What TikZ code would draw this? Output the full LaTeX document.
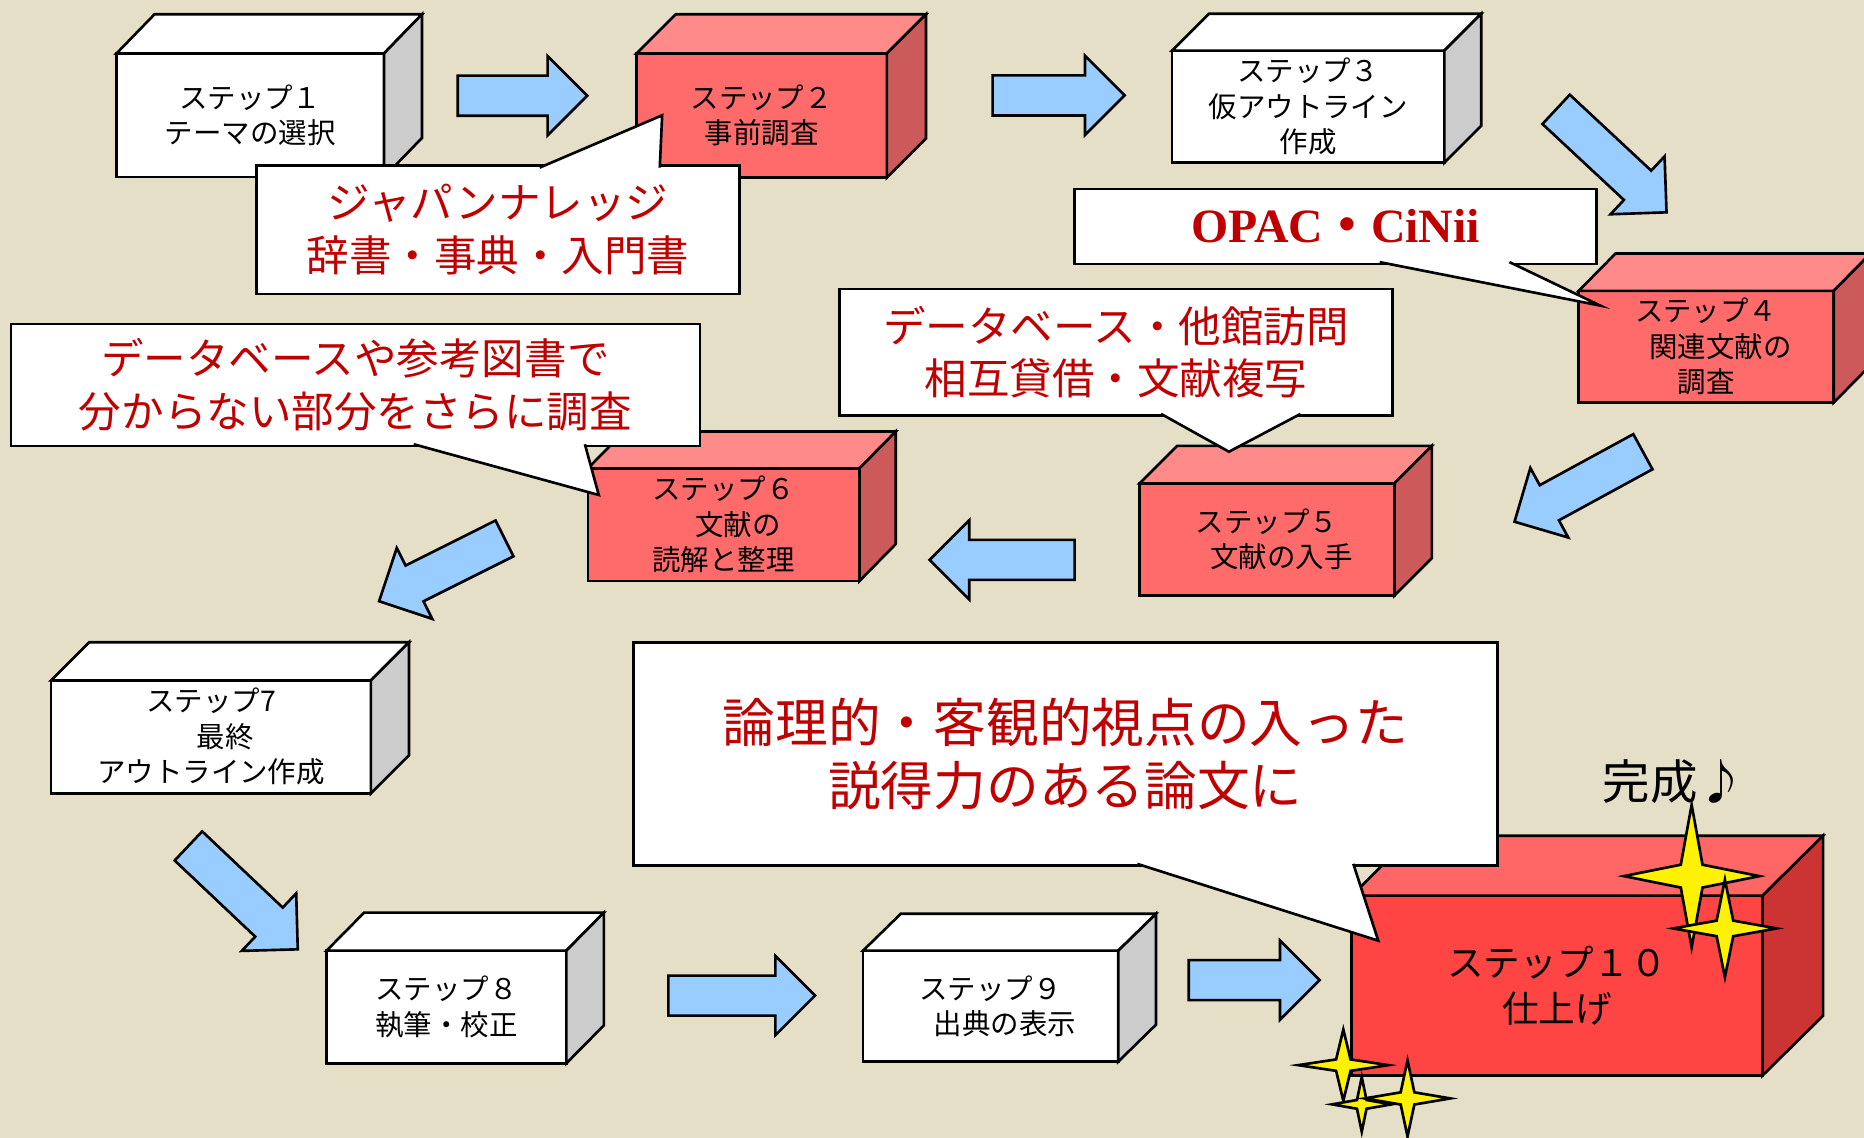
\documentclass[tikz,border=0pt]{standalone}
\usepackage{fontspec}
\newfontfamily\jp{Noto Sans CJK JP}
\newfontfamily\tms{Liberation Serif}
\usetikzlibrary{shapes.arrows,calc}

\definecolor{bg}{HTML}{E6DFC7}
\definecolor{redfront}{HTML}{FF6B6B}
\definecolor{redtop}{HTML}{FF8A8A}
\definecolor{redside}{HTML}{CD5A5A}
\definecolor{hotfront}{HTML}{FF4444}
\definecolor{hottop}{HTML}{FF6666}
\definecolor{hotside}{HTML}{CC3333}
\definecolor{greyside}{HTML}{CCCCCC}
\definecolor{arrowblue}{HTML}{99CCFF}
\definecolor{calloutred}{HTML}{C00000}

\newcommand{\px}{0.011888cm}

% top and side of a step box: node, top colour, side colour, offset
\newcommand{\cubefaces}[4]{%
  \draw[face, fill=#2] (#1.north west) -- ++(#4) -- ($(#1.north east)+(#4)$) -- (#1.north east) -- cycle;
  \draw[face, fill=#3] (#1.north east) -- ++(#4) -- ($(#1.south east)+(#4)$) -- (#1.south east) -- cycle;
}

% four pointed sparkle: x, y, half width, half height
\newcommand{\kira}[4]{%
  \filldraw[sparkle, shift={(#1,#2)}] (-#3,0) -- (-0.16*#3,-0.16*#4) -- (0,-#4) -- (0.16*#3,-0.16*#4)
    -- (#3,0) -- (0.16*#3,0.16*#4) -- (0,#4) -- (-0.16*#3,0.16*#4) -- cycle;
}

\tikzset{
  face/.style={draw=black, line width=0.75pt},
  stepbox/.style={draw=black, line width=0.75pt, inner sep=0pt, outer sep=0pt, align=center,
    font=\jp\fontsize{8.1}{10.1}\selectfont},
  whitebox/.style={stepbox, fill=white},
  redbox/.style={stepbox, fill=redfront},
  bubble/.style={draw=black, fill=white, line width=0.75pt, inner sep=0pt, outer sep=0pt,
    align=center, text=calloutred, font=\jp\fontsize{12.1}{15}\selectfont},
  tail/.style={fill=white, draw=black, line width=0.75pt},
  flow/.style={single arrow, draw=black, fill=arrowblue, line width=0.75pt, inner sep=0pt,
    outer sep=0pt, text height=0.374cm, text depth=0pt, single arrow head extend=0.196cm,
    single arrow tip angle=90, anchor=tail},
  sparkle/.style={fill=yellow, draw=black, line width=0.75pt}
}

\begin{document}
\begin{tikzpicture}[x=0.011888cm, y=-0.011888cm]
\fill[bg] (0,0) rectangle (1568,957);
\useasboundingbox (0,0) rectangle (1568,957);

% steps
\node[whitebox, minimum width=225*\px, minimum height=104*\px] (s1) at (210.5,97)
  {ステップ１\\テーマの選択};
\cubefaces{s1}{white}{greyside}{32,-33}
\node[redbox, minimum width=210.5*\px, minimum height=104.5*\px] (s2) at (640.75,97.25)
  {ステップ２\\事前調査};
\cubefaces{s2}{redtop}{redside}{33,-33}
\node[whitebox, minimum width=229*\px, minimum height=94.2*\px] (s3) at (1100.5,89.7)
  {ステップ３\\仮アウトライン\\作成};
\cubefaces{s3}{white}{greyside}{31,-31}
\node[redbox, minimum width=214.5*\px, minimum height=94*\px] (s4) at (1435.25,291.7)
  {ステップ４\\\hspace*{1em}関連文献の\\調査};
\cubefaces{s4}{redtop}{redside}{31,-31.5}
\node[redbox, minimum width=214.3*\px, minimum height=94.4*\px] (s5) at (1065.85,453.8)
  {ステップ５\\\hspace*{1em}文献の入手};
\cubefaces{s5}{redtop}{redside}{31.5,-31.5}
\node[redbox, minimum width=228.5*\px, minimum height=94.7*\px] (s6) at (608.75,441.35)
  {ステップ６\\\hspace*{1em}文献の\\読解と整理};
\cubefaces{s6}{redtop}{redside}{30.5,-31}
\node[whitebox, minimum width=269*\px, minimum height=95*\px] (s7) at (177.5,619.8)
  {ステップ7\\\hspace*{1em}最終\\アウトライン作成};
\cubefaces{s7}{white}{greyside}{32,-32}
\node[whitebox, minimum width=201.7*\px, minimum height=94.8*\px] (s8) at (375.55,847.1)
  {ステップ８\\執筆・校正};
\cubefaces{s8}{white}{greyside}{31.6,-32}
\node[whitebox, minimum width=214.7*\px, minimum height=93.3*\px] (s9) at (833.35,846.35)
  {ステップ９\\\hspace*{1em}出典の表示};
\cubefaces{s9}{white}{greyside}{31.7,-31}
\node[stepbox, fill=hotfront, minimum width=345.6*\px, minimum height=151.4*\px,
  font=\jp\fontsize{10.4}{12.9}\selectfont] (s10) at (1309.8,829.1)
  {ステップ１０\\仕上げ};
\cubefaces{s10}{hottop}{hotside}{51,-50.4}

% arrows (placed by their tails)
\node[flow, minimum height=109*\px] (a12) at (385,80.5) {};
\node[flow, minimum height=111*\px] (a23) at (835,80.3) {};
\node[flow, minimum height=127*\px, rotate=-43] (a34) at (1309,92) {};
\node[flow, minimum height=123*\px, rotate=208.6] (a45) at (1382,380) {};
\node[flow, minimum height=122*\px, rotate=180] (a56) at (904,471) {};
\node[flow, minimum height=118*\px, rotate=206.6] (a67) at (424.4,452.9) {};
\node[flow, minimum height=126.6*\px, rotate=-43.4] (a78) at (158.5,711.6) {};
\node[flow, minimum height=123.4*\px] (a89) at (562.2,837.5) {};
\node[flow, minimum height=110*\px] (a910) at (1000,824.5) {};

% callouts
\node[bubble, minimum width=406*\px, minimum height=108*\px] (jk) at (419,193.35)
  {ジャパンナレッジ\\辞書・事典・入門書};
\filldraw[tail] (454,141) -- (557,97) -- (555,141);
\node[bubble, minimum width=439*\px, minimum height=63*\px, font=\tms\bfseries\fontsize{13.6}{15}\selectfont]
  (op) at (1123.5,190.5) {OPAC{\jp ・}CiNii};
\filldraw[tail] (1160.6,220.5) -- (1346.2,257.1) -- (1269.8,220.5);
\node[bubble, minimum width=465.6*\px, minimum height=106.7*\px] (db) at (938.8,296.35)
  {データベース・他館訪問\\相互貸借・文献複写};
\filldraw[tail] (976.7,348.2) -- (1033.8,380) -- (1094,348.2);
\node[bubble, minimum width=579.6*\px, minimum height=102.7*\px] (sk) at (299,323.85)
  {データベースや参考図書で\\分からない部分をさらに調査};
\filldraw[tail] (348,373.7) -- (503.7,416.4) -- (492,373.7);
\node[bubble, minimum width=727*\px, minimum height=187.9*\px,
  font=\jp\fontsize{15}{17.9}\selectfont] (rb) at (896.2,634.25)
  {論理的・客観的視点の入った\\説得力のある論文に};
\filldraw[tail] (956.7,726.7) -- (1159.4,791.3) -- (1138.4,726.7);

% sparkles
\kira{1423}{737}{57}{60}
\kira{1451}{781}{43.5}{41}
\kira{1130}{896}{38}{30}
\kira{1145.5}{929}{25}{23}
\kira{1184}{924}{36}{32}

\node[font=\jp\fontsize{13.5}{15}\selectfont, inner sep=0pt] (done) at (1408,657.5) {完成♪};
\end{tikzpicture}
\end{document}
